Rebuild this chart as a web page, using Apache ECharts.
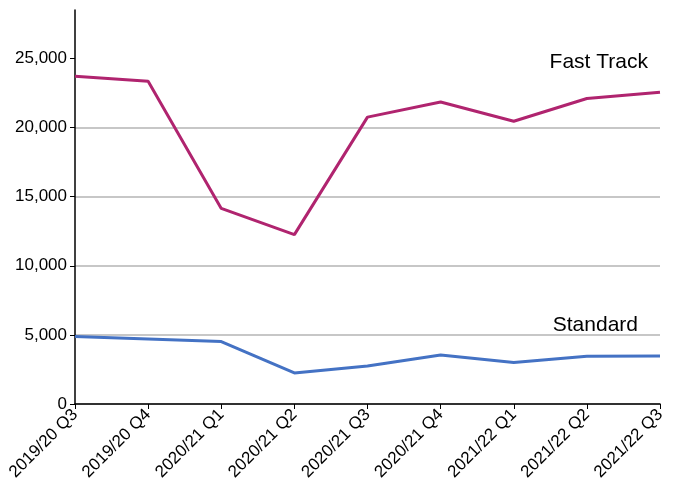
<!DOCTYPE html>
<html>
<head>
<meta charset="utf-8">
<script src="https://cdn.jsdelivr.net/npm/echarts@6/dist/echarts.min.js"></script>
<style>
  html, body { margin: 0; padding: 0; background: #fff; }
  #main { width: 676px; height: 487px; }
</style>
</head>
<body>
<div id="main"></div>
<script>
var quarters = ['2019/20 Q3', '2019/20 Q4', '2020/21 Q1', '2020/21 Q2', '2020/21 Q3',
  '2020/21 Q4', '2021/22 Q1', '2021/22 Q2', '2021/22 Q3'];
var fastTrack = [23700, 23350, 14150, 12250, 20750, 21850, 20450, 22100, 22550];
var standard = [4880, 4700, 4520, 2250, 2750, 3550, 3000, 3450, 3480];
var yTicks = [0, 5000, 10000, 15000, 20000, 25000];

// label only the last point, placed up-left of it
function withEndLabel(values, name, dx) {
  return values.map(function (v, i) {
    if (i < values.length - 1) return v;
    return {
      value: v,
      label: {
        show: true,
        formatter: name,
        position: 'top',
        align: 'right',
        offset: [dx, -15],
        color: '#000',
        fontSize: 21,
        fontFamily: 'Liberation Sans, Arial, sans-serif'
      }
    };
  });
}

var chart = echarts.init(document.getElementById('main'));
chart.setOption({
  animation: false,
  textStyle: { fontFamily: 'Liberation Sans, Arial, sans-serif' },
  grid: { left: 75, right: 16, top: 10, bottom: 83, containLabel: false },
  xAxis: {
    type: 'category',
    boundaryGap: false,
    data: quarters,
    axisLine: { lineStyle: { color: '#000', width: 1.5 } },
    axisTick: { lineStyle: { color: '#000', width: 1 }, length: 5 },
    axisLabel: { rotate: 45, color: '#000', fontSize: 17, margin: 8, interval: 0 },
    splitLine: { show: false }
  },
  yAxis: {
    type: 'value',
    min: 0,
    max: 28500,
    interval: 5000,
    axisLine: { show: true, lineStyle: { color: '#000', width: 1.5 } },
    axisTick: { show: true, length: 5, lineStyle: { color: '#000' }, customValues: yTicks },
    axisLabel: {
      color: '#000',
      fontSize: 17,
      margin: 8,
      customValues: yTicks,
      formatter: function (v) { return v.toLocaleString('en-US'); }
    },
    splitLine: { show: true, showMaxLine: false, lineStyle: { color: '#b4b4b4', width: 1.5 } }
  },
  series: [
    {
      name: 'Fast Track',
      type: 'line',
      data: withEndLabel(fastTrack, 'Fast Track', -12),
      showSymbol: true,
      symbolSize: 0,
      lineStyle: { color: '#b0246f', width: 3 },
      itemStyle: { color: '#b0246f' }
    },
    {
      name: 'Standard',
      type: 'line',
      data: withEndLabel(standard, 'Standard', -22),
      showSymbol: true,
      symbolSize: 0,
      lineStyle: { color: '#4472c4', width: 3 },
      itemStyle: { color: '#4472c4' }
    }
  ]
});
</script>
</body>
</html>
